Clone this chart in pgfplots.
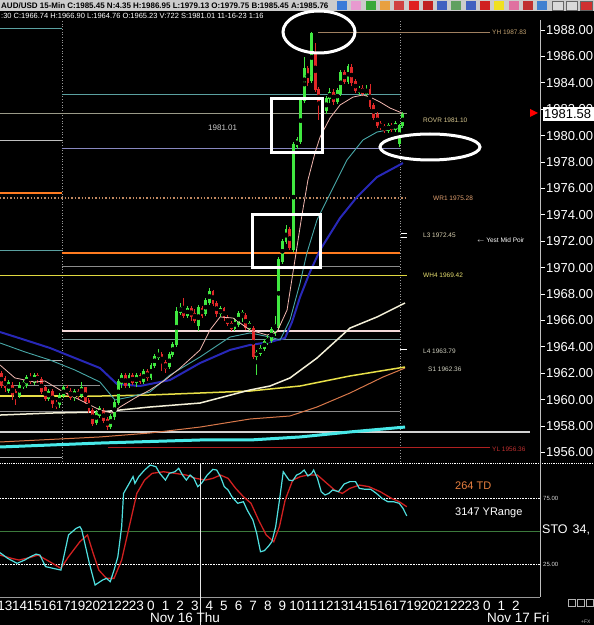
\documentclass[border=0pt]{standalone}
\usepackage{pgfplots}
\pgfplotsset{compat=1.18}
\usepackage{pgfplotstable}
\usepackage{fontspec}
\setmainfont{Liberation Sans}

\definecolor{cgreen}{HTML}{40E840}
\definecolor{cred}{HTML}{E02828}
\definecolor{mapink}{HTML}{F2B8B0}
\definecolor{mateal}{HTML}{48A8A8}
\definecolor{mablue}{HTML}{2828B8}
\definecolor{mawhite}{HTML}{F4F0D8}
\definecolor{mayellow}{HTML}{E8E048}
\definecolor{maorange}{HTML}{D8784A}
\definecolor{macyan}{HTML}{48E8E8}
\definecolor{lvteal}{HTML}{5AA0A0}
\definecolor{lvgray}{HTML}{9A9A88}
\definecolor{lvlav}{HTML}{8888C0}
\definecolor{lvorange}{HTML}{FF7B20}
\definecolor{lvorange2}{HTML}{C08860}
\definecolor{lvyellow}{HTML}{E0D840}
\definecolor{lvpink}{HTML}{F4D8D8}
\definecolor{lvgt}{HTML}{7A9A9A}
\definecolor{lvred}{HTML}{B02020}
\definecolor{lvtan}{HTML}{A08060}
\definecolor{stocyan}{HTML}{50E0E0}
\definecolor{stored}{HTML}{D02020}
\definecolor{stogreen}{HTML}{3C7A3C}

% candles: k = hours from Nov 16 00:00 (hour 18 skipped)
\pgfplotstableread{
k o h l c
-9.75 1960.7 1961.5 1960.5 1961.3
-9.00 1960.3 1961.3 1960.1 1961.1
-8.75 1961.0 1961.5 1960.8 1961.3
-8.50 1961.1 1961.9 1960.9 1961.7
-8.00 1961.3 1962.0 1961.1 1961.8
-7.00 1960.1 1960.8 1959.9 1960.6
-6.25 1959.6 1960.5 1959.4 1960.3
-6.00 1960.3 1961.1 1960.1 1960.9
-5.25 1960.2 1960.8 1959.9 1960.6
-4.75 1960.3 1961.3 1960.1 1960.9
-3.75 1958.3 1959.2 1958.1 1959.0
-3.50 1958.8 1959.5 1958.6 1959.3
-2.75 1958.0 1958.9 1957.8 1958.7
-2.50 1958.7 1960.0 1958.5 1959.8
-2.25 1959.8 1961.6 1959.6 1961.4
-2.00 1961.2 1962.0 1960.9 1961.8
-1.50 1961.1 1962.0 1960.9 1961.8
-1.00 1961.3 1962.0 1961.0 1961.8
-0.50 1961.4 1962.3 1961.2 1962.1
0.00 1961.7 1962.8 1961.5 1962.6
0.25 1962.6 1963.5 1962.4 1963.3
0.50 1963.2 1963.8 1963.0 1963.5
1.25 1962.5 1963.6 1962.3 1963.4
1.50 1963.4 1964.4 1963.2 1964.2
1.75 1964.2 1967.0 1964.0 1966.7
2.00 1966.6 1967.3 1966.4 1967.0
2.50 1966.4 1967.1 1966.2 1966.9
3.25 1965.6 1967.2 1965.2 1967.0
3.75 1966.5 1967.7 1966.3 1967.5
4.00 1967.4 1968.45 1967.2 1968.2
4.75 1966.5 1967.1 1966.3 1966.9
5.75 1965.4 1966.2 1965.2 1966.0
6.00 1965.7 1966.7 1965.5 1966.5
6.25 1966.3 1966.8 1965.9 1966.6
6.75 1965.4 1966.0 1965.2 1965.8
7.25 1963.3 1963.8 1961.9 1963.6
7.50 1963.5 1964.1 1963.3 1963.9
7.75 1963.9 1964.6 1963.7 1964.4
8.00 1964.3 1964.9 1964.1 1964.6
8.25 1964.5 1965.5 1964.3 1965.3
8.50 1965.0 1966.3 1964.8 1965.7
8.75 1965.5 1970.8 1965.3 1970.6
9.00 1970.5 1972.2 1970.3 1972.0
9.25 1972.0 1973.2 1971.8 1972.9
9.75 1971.4 1979.5 1971.2 1979.3
10.00 1979.2 1979.9 1979.0 1979.7
10.25 1979.6 1982.9 1979.4 1982.7
10.50 1982.7 1986.0 1982.5 1985.1
11.00 1984.2 1987.83 1984.0 1987.7
12.00 1981.9 1983.0 1981.6 1982.8
12.25 1982.8 1983.6 1982.5 1983.3
12.75 1982.6 1983.6 1982.4 1983.4
13.00 1983.2 1985.0 1983.0 1984.8
13.50 1984.1 1985.4 1983.9 1985.2
14.25 1983.3 1983.8 1983.1 1983.6
14.75 1983.2 1983.8 1983.0 1983.5
16.25 1980.4 1981.0 1980.2 1980.8
16.75 1980.5 1981.1 1980.3 1980.9
17.00 1979.4 1980.9 1979.13 1980.8
17.25 1980.8 1981.8 1980.6 1981.58
}\upc

\pgfplotstableread{
k o h l c
-10.25 1962.0 1962.2 1960.9 1961.1
-10.00 1961.6 1961.8 1960.6 1960.9
-9.50 1961.1 1961.3 1960.0 1960.4
-9.25 1960.6 1960.8 1959.6 1960.1
-8.25 1961.7 1962.0 1961.2 1961.4
-7.75 1961.8 1962.0 1961.3 1961.5
-7.50 1961.5 1961.7 1960.4 1960.6
-7.25 1960.9 1961.0 1959.9 1960.1
-6.75 1960.6 1960.8 1959.4 1959.7
-6.50 1959.8 1960.0 1959.3 1959.5
-5.75 1960.9 1961.1 1960.3 1960.5
-5.50 1960.6 1960.9 1960.0 1960.2
-5.00 1960.6 1960.8 1960.0 1960.3
-4.50 1960.9 1961.0 1959.7 1959.9
-4.25 1959.9 1960.1 1959.0 1959.2
-4.00 1959.2 1959.4 1958.0 1958.2
-3.25 1959.2 1959.4 1958.2 1958.4
-3.00 1958.5 1958.7 1957.7 1958.0
-1.75 1961.8 1962.0 1960.9 1961.1
-1.25 1961.8 1962.0 1961.1 1961.3
-0.75 1961.8 1962.0 1961.2 1961.4
-0.25 1962.1 1962.3 1961.4 1961.7
0.75 1963.4 1963.6 1962.2 1962.8
1.00 1962.8 1963.0 1962.0 1962.4
2.25 1967.0 1967.7 1966.2 1966.4
2.75 1966.9 1967.1 1966.0 1966.3
3.00 1966.5 1966.9 1965.8 1966.0
3.50 1966.9 1967.1 1966.2 1966.4
4.25 1968.2 1968.3 1967.1 1967.3
4.50 1967.3 1967.5 1966.3 1966.5
5.00 1966.9 1967.0 1966.0 1966.2
5.25 1966.2 1966.4 1965.6 1965.8
5.50 1965.8 1966.0 1965.2 1965.4
6.50 1966.4 1966.6 1965.3 1965.5
7.00 1965.4 1965.6 1963.1 1963.3
9.50 1972.9 1973.1 1971.3 1971.5
10.75 1985.1 1985.3 1983.8 1984.0
11.25 1986.3 1987.0 1983.3 1983.5
11.50 1983.5 1983.7 1981.2 1982.4
11.75 1982.5 1982.8 1981.4 1981.8
12.50 1983.3 1983.5 1982.3 1982.6
13.25 1984.8 1985.0 1983.9 1984.1
13.75 1985.2 1985.4 1983.8 1984.0
14.00 1984.1 1984.3 1983.2 1983.4
14.50 1983.6 1983.8 1983.0 1983.2
15.00 1983.5 1983.9 1982.0 1982.2
15.25 1982.3 1982.5 1981.2 1981.4
15.50 1981.6 1981.8 1980.6 1980.8
15.75 1980.9 1981.1 1980.4 1980.6
16.00 1980.7 1980.9 1980.2 1980.4
16.50 1980.8 1981.0 1980.3 1980.5
}\downc

\begin{document}
\begin{tikzpicture}[x=1pt,y=1pt]
\fill[black] (0,0) rectangle (594,625);
\useasboundingbox (0,0) rectangle (594,625);

% ---------------- header ----------------
\fill[black!20] (0,613.5) rectangle (594,625);
\node[anchor=west, inner sep=0pt, font=\bfseries\fontsize{8}{8}\selectfont, text=black] at (1,619.3)
  {AUD/USD 15-Min C:1985.45 N:4.35 H:1986.95 L:1979.13 O:1979.75 B:1985.45 A:1985.76};
\foreach \i/\c in {0/3A7AD8,1/E89AD0,2/38A838,3/E8A040,4/D04040,5/E02020,6/C02020,7/4060C0,8/60A060,9/4060C0,10/D02020,11/F0E020,12/E070A0,13/C03030,14/4080D0}{
  \definecolor{ic}{HTML}{\c}
  \fill[ic] (337+14.3*\i,615) rectangle (347+14.3*\i,624);
}
\foreach \xx in {552,566}{\draw[black!60, fill=black!15] (\xx,615) rectangle (\xx+11,624);}
\draw[black!60, fill={rgb,255:red,208;green,48;blue,48}] (580,615) rectangle (592,624);
\node[anchor=west, inner sep=0pt, font=\fontsize{7.5}{7.5}\selectfont, text=white] at (1,608.8)
  {:30 C:1966.74 H:1966.90 L:1964.76 O:1965.23 V:722 S:1981.01 11-16-23 1:16};

% ---------------- price panel ----------------
\begin{axis}[
  at={(0pt,163pt)}, anchor=south west, scale only axis,
  width=540pt, height=442pt,
  xmin=-10.342, xmax=26.644, ymin=1955.273, ymax=1988.758,
  axis x line=none, axis y line*=right,
  y axis line style={draw=none},
  ytick={1956,1958,...,1988},
  tick style={draw=white, line width=0.7pt},
  major tick length=5pt, tick align=outside,
  yticklabel style={text=white, font=\fontsize{13}{13}\selectfont, anchor=west, inner sep=0pt, xshift=1pt},
  /pgf/number format/fixed, /pgf/number format/fixed zerofill,
  /pgf/number format/precision=2, /pgf/number format/1000 sep={},
  /pgf/number format/assume math mode=true,
]
% vertical separators
\addplot[black!40!white, dotted, line width=0.7pt] coordinates {(-6.096,1955.3) (-6.096,1988.8)};
\addplot[black!40!white, dotted, line width=0.7pt] coordinates {(17.055,1955.3) (17.055,1988.8)};
% horizontal levels
\addplot[lvteal, line width=0.8pt] coordinates {(-10.342,1988.15) (-6.096,1988.15)};
\addplot[lvtan, line width=0.9pt] coordinates {(11.44,1987.83) (23.22,1987.83)};
\addplot[lvteal, line width=0.8pt] coordinates {(-6.096,1983.15) (17.055,1983.15)};
\addplot[lvgray, line width=1pt] coordinates {(-10.342,1981.64) (17.53,1981.64)};
\addplot[black!25!white, line width=0.8pt] coordinates {(-10.342,1979.67) (-6.096,1979.67)};
\addplot[lvlav, line width=0.8pt] coordinates {(-6.096,1979.06) (17.055,1979.06)};
\addplot[lvorange, line width=1.4pt] coordinates {(-10.342,1975.65) (-6.096,1975.65)};
\addplot[lvorange2, dotted, line width=1.4pt] coordinates {(-10.342,1975.28) (17.53,1975.28)};
\addplot[lvteal, line width=0.8pt] coordinates {(-10.342,1971.33) (-6.096,1971.33)};
\addplot[lvorange, line width=1.5pt] coordinates {(-6.096,1971.1) (17.055,1971.1)};
\addplot[black!45!white, line width=0.8pt] coordinates {(-6.096,1970.12) (17.055,1970.12)};
\addplot[lvyellow, line width=1.2pt] coordinates {(-10.342,1969.42) (17.53,1969.42)};
\addplot[lvpink, line width=1.5pt] coordinates {(-6.096,1965.2) (17.055,1965.2)};
\addplot[lvgt, line width=0.8pt] coordinates {(-6.096,1964.59) (17.055,1964.59)};
\addplot[black!30!white, line width=0.8pt] coordinates {(-10.342,1963.0) (-6.096,1963.0)};
\addplot[black!45!white, line width=0.8pt] coordinates {(-10.342,1961.1) (-3.49,1961.1)};
\addplot[lvyellow, line width=1.2pt] coordinates {(-10.342,1960.27) (-6.096,1960.27)};
\addplot[black!45!white, line width=0.8pt] coordinates {(-10.342,1959.14) (17.055,1959.14)};
\addplot[black!18!white, line width=2pt] coordinates {(-10.342,1957.55) (25.96,1957.55)};
\addplot[lvred, line width=0.9pt] coordinates {(-2.95,1956.36) (23.22,1956.36)};
\addplot[black!30!white, line width=0.8pt] coordinates {(-10.342,1955.6) (-6.096,1955.6)};
\addplot[white, line width=1pt] coordinates {(17.12,1972.62) (17.53,1972.62)};
\addplot[white, line width=1pt] coordinates {(17.12,1972.25) (17.53,1972.25)};
\addplot[white, line width=0.8pt] coordinates {(17.05,1963.79) (17.53,1963.79)};
% moving averages
\addplot[macyan, line width=3pt] coordinates {(-10.34,1956.41) (-3.49,1956.71) (3.36,1956.94) (6.78,1956.94) (10.21,1957.17) (13.63,1957.55) (17.40,1957.92)};
\addplot[maorange, line width=1pt] coordinates {(-10.34,1956.79) (-3.49,1957.17) (-0.07,1957.47) (3.36,1957.92) (6.78,1958.53) (9.52,1958.76) (11.37,1959.44) (13.63,1960.50) (15.89,1961.71) (17.40,1962.39)};
\addplot[mayellow, line width=1.5pt] coordinates {(-10.34,1960.27) (-3.49,1960.27) (-0.07,1960.35) (3.36,1960.50) (6.78,1960.65) (10.21,1961.03) (13.63,1961.79) (17.40,1962.47)};
\addplot[mawhite, line width=1.5pt] coordinates {(-10.34,1958.83) (-6.92,1958.98) (-3.49,1959.06) (-0.07,1959.44) (3.36,1959.74) (6.78,1960.73) (8.15,1961.03) (9.52,1961.64) (11.37,1963.15) (13.63,1965.42) (15.48,1966.26) (17.40,1967.32)};
\addplot[mablue, line width=2pt] coordinates {(-10.34,1965.12) (-8.63,1964.52) (-6.92,1963.91) (-5.21,1963.15) (-3.49,1962.39) (-2.33,1961.18) (-0.75,1961.03) (1.30,1961.48) (3.36,1962.77) (5.41,1963.76) (6.78,1964.14) (8.15,1964.36) (9.18,1964.67) (9.66,1965.88) (10.21,1967.77) (10.89,1969.67) (11.58,1971.33) (12.95,1973.76) (14.11,1975.35) (15.48,1976.86) (17.26,1977.92)};
\addplot[mateal, line width=0.9pt] coordinates {(-10.34,1964.29) (-8.63,1963.61) (-6.92,1963.0) (-5.21,1962.24) (-3.49,1961.33) (-2.47,1959.97) (-1.44,1960.20) (-0.07,1960.58) (1.30,1961.86) (3.36,1963.23) (5.41,1964.74) (6.78,1965.05) (8.15,1964.74) (8.84,1964.52) (9.52,1966.03) (10.21,1968.83) (10.68,1971.11) (11.37,1973.61) (12.05,1975.12) (13.42,1978.15) (14.52,1979.67) (15.48,1980.27) (17.26,1980.65)};
% candles
\addplot[only marks, mark=none, error bars/.cd, y dir=both, y explicit, error mark=none,
  error bar style={line width=0.9pt, draw=cgreen}]
  table[x=k, y expr={(\thisrow{h}+\thisrow{l})/2}, y error expr={(\thisrow{h}-\thisrow{l})/2}] {\upc};
\addplot[only marks, mark=none, error bars/.cd, y dir=both, y explicit, error mark=none,
  error bar style={line width=0.9pt, draw=cred}]
  table[x=k, y expr={(\thisrow{h}+\thisrow{l})/2}, y error expr={(\thisrow{h}-\thisrow{l})/2}] {\downc};
\addplot[only marks, mark=none, error bars/.cd, y dir=both, y explicit, error mark=none,
  error bar style={line width=2.8pt, draw=cgreen}]
  table[x=k, y expr={(\thisrow{o}+\thisrow{c})/2}, y error expr={(\thisrow{c}-\thisrow{o})/2+0.04}] {\upc};
\addplot[only marks, mark=none, error bars/.cd, y dir=both, y explicit, error mark=none,
  error bar style={line width=2.8pt, draw=cred}]
  table[x=k, y expr={(\thisrow{o}+\thisrow{c})/2}, y error expr={(\thisrow{o}-\thisrow{c})/2+0.04}] {\downc};
% fast MA on top
\addplot[mapink, line width=0.8pt] coordinates {(-10.34,1962.62) (-9.32,1961.64) (-7.95,1961.33) (-7.26,1961.41) (-6.23,1960.73) (-4.86,1959.97) (-3.49,1959.21) (-2.67,1958.98) (-2.12,1959.44) (-1.10,1960.12) (-0.07,1960.73) (0.96,1961.48) (1.99,1962.39) (3.36,1963.76) (4.04,1965.27) (4.73,1966.26) (5.62,1966.18) (6.78,1965.27) (7.95,1964.89) (8.63,1965.12) (9.32,1966.79) (9.86,1970.58) (10.34,1973.98) (10.75,1976.64) (11.23,1978.68) (11.58,1979.89) (12.26,1981.33) (12.95,1982.32) (13.84,1982.92) (14.52,1983.08) (15.0,1982.92) (15.68,1982.55) (16.37,1982.09) (17.19,1981.71)};
\end{axis}

% ---------------- stochastic panel ----------------
\begin{axis}[
  at={(0pt,28pt)}, anchor=south west, scale only axis,
  width=540pt, height=133.3pt,
  xmin=-10.342, xmax=26.644, ymin=0, ymax=101,
  axis y line=none, axis x line*=bottom,
  x axis line style={draw=none},
  xtick={-10,...,25},
  xticklabels={13,14,15,16,17,19,20,21,22,23,0,1,2,3,4,5,6,7,8,9,10,11,12,13,14,15,16,17,19,20,21,22,23,0,1,2},
  major tick length=0pt,
  xticklabel style={text=white, font=\fontsize{13.5}{13.5}\selectfont, anchor=north, inner sep=0pt, yshift=-4pt},
]
\addplot[white, densely dotted, line width=0.6pt] coordinates {(-10.342,75) (26.644,75)};
\addplot[white, densely dotted, line width=0.6pt] coordinates {(-10.342,25) (26.644,25)};
\addplot[stogreen, line width=1pt] coordinates {(-10.342,50) (26.644,50)};
\addplot[stored, line width=1.3pt] coordinates {(-10.34,31.8) (-9.56,29.3) (-9.04,28.0) (-8.26,30.0) (-7.74,31.8) (-6.95,26.8) (-6.17,21.7) (-5.65,30.5) (-4.87,41.9) (-4.35,47.0) (-3.96,33.1) (-3.57,20.4) (-3.05,14.1) (-2.53,14.1) (-2.01,28.0) (-1.49,53.3) (-0.97,78.5) (-0.44,88.6) (0.08,93.7) (0.86,94.9) (1.64,93.7) (2.42,92.4) (3.07,89.9) (3.72,88.6) (4.24,89.9) (4.76,92.4) (5.28,89.9) (5.80,82.3) (6.33,76.0) (6.85,71.0) (7.37,58.3) (7.89,47.0) (8.41,41.9) (8.80,53.3) (9.19,73.5) (9.71,88.6) (10.23,91.2) (10.75,92.4) (11.40,92.4) (12.05,86.1) (12.57,81.1) (13.10,78.5) (13.62,82.3) (14.27,84.8) (14.92,83.6) (15.70,79.8) (16.48,74.7) (17.0,72.2) (17.52,68.4)};
\addplot[stocyan, line width=1.2pt] coordinates {(-10.34,33.6) (-9.82,29.3) (-9.17,25.5) (-8.65,28.0) (-8.26,30.5) (-7.87,32.5) (-7.61,31.8) (-7.22,23.0) (-6.70,21.7) (-6.17,20.4) (-5.65,47.0) (-5.13,52.0) (-4.87,53.3) (-4.74,50.8) (-4.22,25.5) (-3.83,9.1) (-3.31,12.9) (-3.05,14.1) (-2.79,11.6) (-2.53,20.4) (-2.27,30.5) (-2.01,53.3) (-1.88,78.5) (-1.49,86.1) (-1.23,91.2) (-1.10,86.1) (-0.84,91.2) (-0.44,96.2) (-0.05,100) (0.34,98.7) (0.60,93.7) (0.99,88.6) (1.25,93.7) (1.64,94.9) (1.90,97.5) (2.16,92.4) (2.42,88.6) (2.68,92.4) (2.94,89.9) (3.20,83.6) (3.46,86.1) (3.85,92.4) (4.24,96.7) (4.50,96.2) (4.76,91.2) (5.02,83.6) (5.28,81.1) (5.54,76.0) (5.94,71.0) (6.33,72.2) (6.59,65.9) (6.98,58.3) (7.24,48.2) (7.50,34.3) (7.76,35.1) (8.02,38.1) (8.28,41.9) (8.54,53.3) (8.80,73.5) (9.06,94.9) (9.45,88.6) (9.71,88.1) (9.97,92.4) (10.23,93.7) (10.49,96.2) (10.75,91.7) (11.01,93.7) (11.14,96.2) (11.40,89.9) (11.66,79.8) (11.92,77.3) (12.18,78.5) (12.44,81.1) (12.84,79.8) (13.23,85.6) (13.62,87.4) (14.01,87.4) (14.27,82.3) (14.66,81.6) (15.05,81.6) (15.44,78.5) (15.83,74.7) (16.22,72.2) (16.61,72.2) (17.0,71.0) (17.26,67.2) (17.52,61.4)};
\end{axis}

% ---------------- frame lines ----------------
\draw[white, densely dotted, line width=0.8pt] (0,161.5) -- (594,161.5);
\draw[black!25!white, line width=0.7pt] (540,605) -- (540,28);
\draw[black!40!white, line width=0.6pt] (0,28) -- (540,28);
\draw[black!10!white, line width=0.8pt] (200,161) -- (200,0);

% ---------------- labels ----------------
\begin{scope}[every node/.style={anchor=west, inner sep=0pt, font=\fontsize{6.5}{6.5}\selectfont}]
\node[text={rgb,255:red,192;green,160;blue,112}] at (492,593) {YH 1987.83};
\node[text={rgb,255:red,216;green,200;blue,144}] at (423,505) {ROVR 1981.10};
\node[text={rgb,255:red,224;green,160;blue,112}] at (433,427) {WR1 1975.28};
\node[text={rgb,255:red,216;green,208;blue,176}] at (423,390) {L3 1972.45};
\node[text=white] at (477,385) {$\leftarrow$ Yest Mid Poir};
\node[text={rgb,255:red,232;green,224;blue,112}] at (423,350) {WH4 1969.42};
\node[text={rgb,255:red,208;green,208;blue,192}] at (423,274) {L4 1963.79};
\node[text={rgb,255:red,208;green,208;blue,192}] at (428,256) {S1 1962.36};
\node[text={rgb,255:red,192;green,48;blue,48}] at (492,176) {YL 1956.36};
\end{scope}
\node[anchor=west, inner sep=0pt, font=\fontsize{8}{8}\selectfont, text=black!20!white] at (208,497) {1981.01};

% current price marker
\fill[red] (530,516) -- (538,512) -- (530,508) -- cycle;
\fill[white] (543,504) rectangle (594,517.5);
\node[anchor=west, inner sep=0pt, font=\fontsize{13}{13}\selectfont, text=black] at (544,510.8) {1981.58};

% stochastic panel labels
\node[anchor=west, inner sep=0pt, font=\fontsize{11}{11}\selectfont, text={rgb,255:red,232;green,128;blue,64}] at (455,139) {264 TD};
\node[anchor=west, inner sep=0pt, font=\fontsize{11}{11}\selectfont, text=white] at (455,112) {3147 YRange};
\node[anchor=west, inner sep=0pt, font=\fontsize{12.5}{12.5}\selectfont, text=white] at (542,95) {STO\hspace{5pt}34,};
\node[anchor=west, inner sep=0pt, font=\fontsize{6}{6}\selectfont, text=black!15!white] at (543,127) {75.00};
\node[anchor=west, inner sep=0pt, font=\fontsize{6}{6}\selectfont, text=black!15!white] at (543,61) {25.00};

% date labels
\node[anchor=west, inner sep=0pt, font=\fontsize{13.5}{13.5}\selectfont, text=white] at (150,7) {Nov 16 Thu};
\node[anchor=west, inner sep=0pt, font=\fontsize{13.5}{13.5}\selectfont, text=white] at (487,7) {Nov 17 Fri};
\foreach \xx in {568,577,586}{\draw[black!30!white, line width=0.6pt] (\xx,19) rectangle (\xx+7,26);}
\node[anchor=west, inner sep=0pt, font=\fontsize{5}{5}\selectfont, text=black!30!white] at (581,3) {+FX};

% annotations
\draw[white, line width=3pt] (319,593) ellipse [x radius=36, y radius=21];
\draw[white, line width=3pt] (430,478) ellipse [x radius=50, y radius=13];
\draw[white, line width=3pt] (271,526) rectangle (322,472);
\draw[white, line width=3pt] (252,410) rectangle (320,357);
\end{tikzpicture}
\end{document}
